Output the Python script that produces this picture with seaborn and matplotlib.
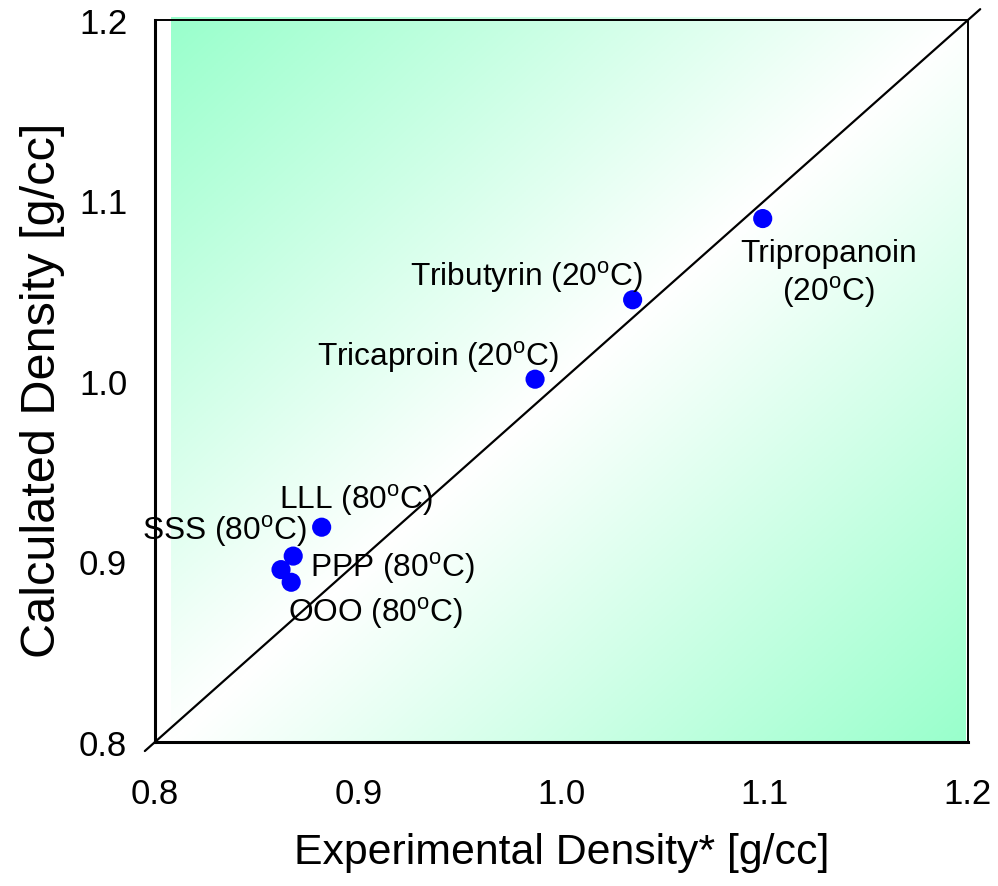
import numpy as np
import pandas as pd
import matplotlib
matplotlib.use("Agg")
import matplotlib.pyplot as plt
import seaborn as sns
from matplotlib.colors import LinearSegmentedColormap

# ---- data ----
names = ["Tripropanoin\n(20$^\\mathregular{o}$C)",
         "Tributyrin (20$^\\mathregular{o}$C)",
         "Tricaproin (20$^\\mathregular{o}$C)",
         "LLL (80$^\\mathregular{o}$C)",
         "SSS (80$^\\mathregular{o}$C)",
         "PPP (80$^\\mathregular{o}$C)",
         "OOO (80$^\\mathregular{o}$C)"]
experimental = [1.099, 1.035, 0.987, 0.882, 0.862, 0.868, 0.867]
calculated = [1.090, 1.045, 1.001, 0.919, 0.8955, 0.903, 0.8885]
ticks = [0.8, 0.9, 1.0, 1.1, 1.2]
tick_labels = ["0.8", "0.9", "1.0", "1.1", "1.2"]

# label offsets (pixels) relative to each point
label_offsets = [(66, -55), (-106, 24), (-97, 23), (34, 28), (-57, 39), (99, -11), (84, -30)]

sns.set_style("white")
plt.rcParams['font.family'] = ['Liberation Sans', 'DejaVu Sans']
plt.rcParams['mathtext.fontset'] = 'custom'
plt.rcParams['mathtext.rm'] = 'Liberation Sans'
plt.rcParams['text.color'] = 'black'
plt.rcParams['axes.labelcolor'] = 'black'
plt.rcParams['xtick.color'] = 'black'
plt.rcParams['ytick.color'] = 'black'

fig = plt.figure(figsize=(9.98, 8.87), dpi=100)
ax = fig.add_axes([155/998, 1-743/887, 813/998, 722/887])

# background gradient: green at off-diagonal corners, white along diagonal
n = 400
u = np.linspace(0, 1, n)
U, V = np.meshgrid(u, u)
T = np.abs(U - V)
cmap = LinearSegmentedColormap.from_list("wg", ["#ffffff", "#99ffcc"])
ax.imshow(T, origin="lower", extent=(0.808, 1.199, 0.8, 1.2015), cmap=cmap,
          vmin=0, vmax=1, aspect="auto", zorder=0, clip_on=False, interpolation="bilinear")

# diagonal line
ax.plot([0.795, 1.206], [0.795, 1.206], color="black", lw=1.6, clip_on=False, zorder=2)

df = pd.DataFrame({"exp": experimental, "calc": calculated, "name": names})
sns.scatterplot(data=df, x="exp", y="calc", ax=ax, color="#0000ff", s=190,
                edgecolor="none", linewidth=0, zorder=3, legend=False)

for nm, xe, yc, off in zip(names, experimental, calculated, label_offsets):
    ax.annotate(nm, (xe, yc), xytext=off, textcoords="offset pixels",
                ha="center", va="center", fontsize=22.8, color="black",
                multialignment="center", linespacing=1.22, zorder=4)

ax.set_xlim(0.8, 1.2)
ax.set_ylim(0.8, 1.2)
ax.set_xticks(ticks)
ax.set_xticklabels(tick_labels)
ax.set_yticks(ticks)
ax.set_yticklabels(tick_labels)
ax.tick_params(axis="both", direction="in", length=9, width=1.8, labelsize=25,
               colors="black", labelcolor="black")
ax.tick_params(axis="x", pad=25)
ax.tick_params(axis="y", pad=20)
ax.set_xlabel("Experimental Density* [g/cc]", fontsize=30.8, labelpad=16, color="black")
ax.set_ylabel("Calculated Density [g/cc]", fontsize=35, labelpad=10, color="black")
ax.yaxis.label.set_y(0.488)

for side in ["left", "bottom"]:
    ax.spines[side].set_linewidth(2.2)
for side in ["top", "right"]:
    ax.spines[side].set_linewidth(1.4)
for s in ax.spines.values():
    s.set_color("black")
    s.set_zorder(5)

fig.savefig("out.png", dpi=100)
